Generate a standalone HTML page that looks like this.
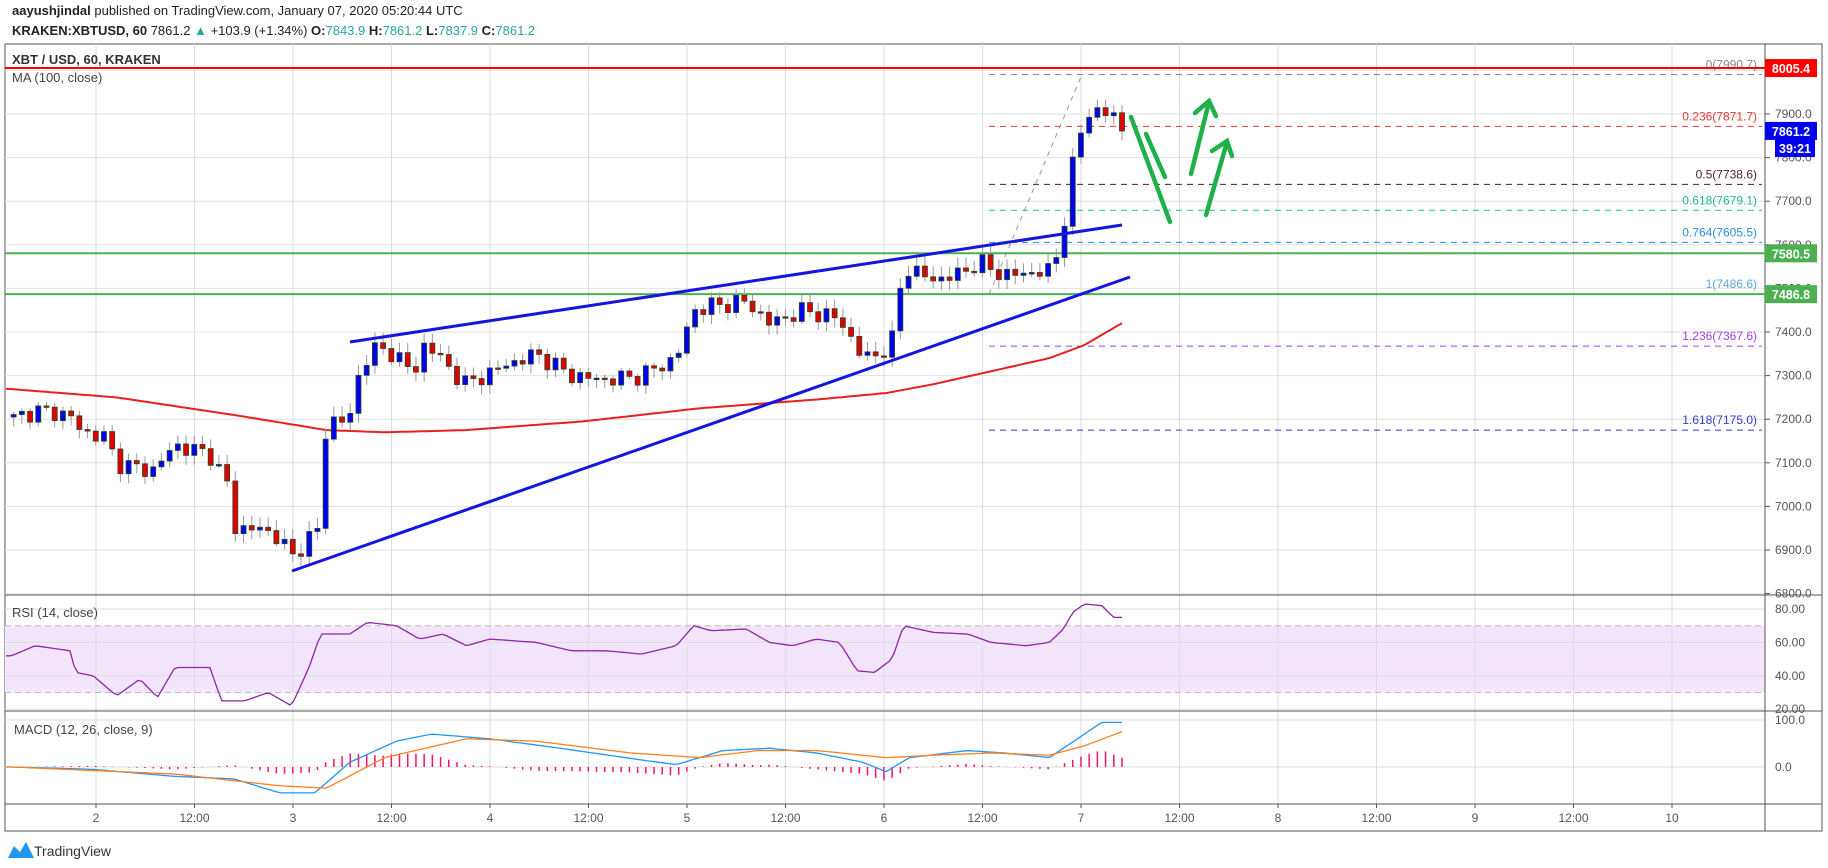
<!DOCTYPE html>
<html><head><meta charset="utf-8"><style>
body{margin:0;background:#fff;width:1828px;height:868px;overflow:hidden;font-family:"Liberation Sans",sans-serif}
svg{position:absolute;left:0;top:0}
</style></head><body>
<svg id="s" width="1828" height="868" xmlns="http://www.w3.org/2000/svg" font-family="Liberation Sans, sans-serif"></svg>
<script>
const S=document.getElementById('s');let h='';
const PY=p=>114+(7900-p)*0.436, RY=v=>609+(80-v)*1.67, MY=v=>767-v*0.47;
function interp(pts,tx){if(tx<=pts[0][0])return pts[0][1];for(let i=1;i<pts.length;i++){if(tx<=pts[i][0]){const a=pts[i-1],b=pts[i];return a[1]+(b[1]-a[1])*(tx-a[0])/(b[0]-a[0]);}}return pts[pts.length-1][1];}
function path(pts,fy,col,w){let d='';for(let x=6;x<=1124;x+=4){const v=interp(pts,x/1.166);d+=(d?'L':'M')+x+' '+fy(v).toFixed(1);}return `<path d="${d}" fill="none" stroke="${col}" stroke-width="${w}"/>`;}
// panes
h+=`<rect x="5" y="44" width="1817" height="787" fill="#fff" stroke="#555"/>`;
h+=`<rect x="5" y="${RY(70)}" width="1760" height="${RY(30)-RY(70)}" fill="#f3e6fc"/>`;
// vertical grid
const vx=[];for(let k=-1;k<=17;k++){const x=96+k*98.5;if(x>5&&x<1765)vx.push(x);}
vx.forEach(x=>h+=`<line x1="${x}" y1="44" x2="${x}" y2="804" stroke="#ddd"/>`);
for(let p=6800;p<=8000;p+=100){const y=PY(p);h+=`<line x1="5" y1="${y}" x2="1765" y2="${y}" stroke="#e0e0e0"/>`;if(p<8000)h+=`<text x="1775" y="${y+4}" font-size="12" fill="#555">${p}.0</text><line x1="1765" y1="${y}" x2="1770" y2="${y}" stroke="#555"/>`;}
[80,60,40,20].forEach(v=>{h+=`<line x1="5" y1="${RY(v)}" x2="1765" y2="${RY(v)}" stroke="#ddd"/><text x="1775" y="${RY(v)+4}" font-size="12" fill="#555">${v}.00</text>`});
[70,30].forEach(v=>h+=`<line x1="5" y1="${RY(v)}" x2="1765" y2="${RY(v)}" stroke="#bbb" stroke-dasharray="6,4"/>`);
[[100,'100.0'],[0,'0.0']].forEach(a=>h+=`<line x1="5" y1="${MY(a[0])}" x2="1765" y2="${MY(a[0])}" stroke="#ddd"/><text x="1775" y="${MY(a[0])+4}" font-size="12" fill="#555">${a[1]}</text>`);
h+=`<line x1="5" y1="595" x2="1822" y2="595" stroke="#555"/><line x1="5" y1="711" x2="1822" y2="711" stroke="#555"/><line x1="5" y1="804" x2="1822" y2="804" stroke="#555"/><line x1="1765" y1="44" x2="1765" y2="831" stroke="#555"/>`;
// time labels
const tl=['2','12:00','3','12:00','4','12:00','5','12:00','6','12:00','7','12:00','8','12:00','9','12:00','10'];
tl.forEach((t,i)=>{const x=96+i*98.5;h+=`<text x="${x}" y="822" font-size="12" fill="#555" text-anchor="middle">${t}</text><line x1="${x}" y1="804" x2="${x}" y2="808" stroke="#555"/>`});
// fib lines
const fib=[[7990.7,'0(7990.7)','#888'],[7871.7,'0.236(7871.7)','#e53935'],[7738.6,'0.5(7738.6)','#4a1e2e'],[7679.1,'0.618(7679.1)','#26b890'],[7605.5,'0.764(7605.5)','#2b8fd6'],[7486.6,'1(7486.6)','#5aa9d6'],[7367.6,'1.236(7367.6)','#a040e0'],[7175.0,'1.618(7175.0)','#3040d0']];
fib.forEach(f=>{const y=PY(f[0]);h+=`<line x1="989" y1="${y}" x2="1762" y2="${y}" stroke="${f[2]}" stroke-dasharray="6,5"/><text x="1757" y="${y-6}" font-size="12" fill="${f[2]}" text-anchor="end">${f[1]}</text>`});
h+=`<line x1="989" y1="${PY(7486.6)}" x2="1082" y2="${PY(7990.7)}" stroke="#999" stroke-dasharray="5,5"/>`;
// horizontal S/R
h+=`<line x1="5" y1="${PY(8005.4)}" x2="1765" y2="${PY(8005.4)}" stroke="#f00" stroke-width="2"/>`;
h+=`<line x1="5" y1="${PY(7580.5)}" x2="1765" y2="${PY(7580.5)}" stroke="#4caf50" stroke-width="2"/>`;
h+=`<line x1="5" y1="${PY(7486.8)}" x2="1765" y2="${PY(7486.8)}" stroke="#4caf50" stroke-width="2"/>`;
// MA
h+=path([[5,7270],[100,7250],[200,7210],[280,7175],[330,7170],[400,7175],[500,7195],[600,7225],[700,7245],[760,7260],[800,7280],[850,7310],[900,7340],[930,7370],[962,7420]],PY,'#e82020',2);
// candles
const pp=[[10,7200],[30,7220],[60,7210],[70,7170],[90,7160],[100,7100],[130,7080],[150,7140],[180,7120],[195,7050],[200,6950],[220,6950],[240,6930],[250,6880],[265,6930],[275,6950],[280,7200],[300,7200],[310,7330],[320,7360],[340,7350],[355,7300],[365,7380],[380,7330],[400,7280],[430,7320],[460,7350],[490,7300],[520,7290],[550,7300],[580,7340],[595,7450],[610,7460],[640,7470],[660,7420],[690,7450],[720,7430],[740,7340],[755,7350],[765,7380],[775,7550],[800,7520],[820,7530],[840,7560],[860,7530],[900,7540],[910,7600],[915,7700],[920,7780],[928,7870],[935,7910],[945,7900],[955,7900],[962,7860]];
let prev=7205;
for(let i=0;i<=135;i++){const x=1122-(135-i)*8.21;let c=interp(pp,x/1.166)+Math.sin(i*2.3)*14+Math.cos(i*1.7)*9;if(i==135)c=7861;
const o=prev,hi=Math.max(o,c)+6+Math.abs(Math.sin(i*3.1))*18,lo=Math.min(o,c)-6-Math.abs(Math.cos(i*2.7))*16;prev=c;
const up=c>=o,col=up?'#0000ee':'#e00000';const yt=PY(Math.max(o,c)),yb=Math.max(PY(Math.min(o,c)),yt+1.5);
h+=`<line x1="${x}" y1="${PY(hi)}" x2="${x}" y2="${PY(lo)}" stroke="#999"/><rect x="${x-2.5}" y="${yt}" width="5" height="${yb-yt}" fill="${col}" stroke="#2a4a2a" stroke-width="0.8"/>`;}
// trendlines
h+=`<line x1="350" y1="342" x2="1122" y2="225" stroke="#1515e0" stroke-width="3"/><line x1="292" y1="571" x2="1130" y2="277" stroke="#1515e0" stroke-width="3"/>`;
// arrows
const g='stroke="#1fb04a" stroke-width="4.5" stroke-linecap="round" fill="none"';
h+=`<line x1="1131" y1="117" x2="1170" y2="222" ${g}/><line x1="1146" y1="134" x2="1165" y2="177" ${g}/>`;
h+=`<path d="M1191 174 L1209 102 M1195 113 L1209 101 L1216 116" ${g}/><path d="M1206 215 L1227 142 M1212 151 L1227 141 L1232 156" ${g}/>`;
// RSI
h+=path([[10,52],[30,58],[60,55],[65,42],[80,40],[100,28],[120,38],[135,27],[150,45],[180,45],[190,25],[210,25],[230,30],[250,22],[265,45],[275,65],[300,65],[315,72],[340,70],[360,62],[380,65],[400,58],[420,62],[460,60],[490,55],[520,55],[550,53],[580,58],[595,70],[610,67],[640,68],[660,60],[680,58],[700,62],[720,60],[735,43],[750,42],[765,50],[775,70],[800,66],[830,65],[850,60],[880,58],[900,60],[912,68],[920,78],[930,83],[945,82],[955,75],[962,75]],RY,'#8e24aa',1.3);
// MACD
const mp=[[10,0],[80,-5],[150,-20],[200,-25],[240,-55],[270,-55],[300,10],[340,55],[370,70],[420,60],[480,40],[550,15],[580,5],[620,35],[660,40],[700,30],[740,10],[760,-10],[780,20],[830,35],[860,30],[900,20],[930,70],[945,95],[962,95]];
const sp=[[10,0],[150,-15],[240,-40],[280,-45],[330,20],[400,60],[460,55],[540,30],[600,20],[650,35],[700,35],[760,20],[800,25],[850,30],[900,25],[930,45],[962,75]];
for(let i=0;i<=135;i++){const x=1122-(135-i)*8.21;const d=interp(mp,x/1.166)-interp(sp,x/1.166);h+=`<line x1="${x}" y1="${MY(0)}" x2="${x}" y2="${MY(d)}" stroke="#ff1070" stroke-width="1.5"/>`;}
h+=path(mp,MY,'#2196f3',1.3)+path(sp,MY,'#ff7f1e',1.3);
// right labels
function box(y,t,c,x=1765,w=52){h+=`<rect x="${x}" y="${y-9}" width="${w}" height="18" fill="${c}"/><text x="${x+w/2}" y="${y+5}" font-size="12.5" font-weight="bold" fill="#fff" text-anchor="middle">${t}</text>`;}
box(PY(8005.4),'8005.4','#f00');box(PY(7861.2),'7861.2','#0000ee');box(148,'39:21','#0000ee',1775,40);box(PY(7580.5),'7580.5','#4caf50');box(PY(7486.8),'7486.8','#4caf50');
// titles
h+=`<text x="12" y="15" font-size="13" fill="#222"><tspan font-weight="bold">aayushjindal</tspan> published on TradingView.com, January 07, 2020 05:20:44 UTC</text>`;
h+=`<text x="12" y="35" font-size="13" fill="#222"><tspan font-weight="bold">KRAKEN:XBTUSD, 60</tspan> 7861.2 <tspan fill="#26a69a">▲</tspan> +103.9 (+1.34%) <tspan font-weight="bold">O:</tspan><tspan fill="#26a69a">7843.9</tspan> <tspan font-weight="bold">H:</tspan><tspan fill="#26a69a">7861.2</tspan> <tspan font-weight="bold">L:</tspan><tspan fill="#26a69a">7837.9</tspan> <tspan font-weight="bold">C:</tspan><tspan fill="#26a69a">7861.2</tspan></text>`;
h+=`<text x="12" y="64" font-size="13" fill="#333" font-weight="bold">XBT / USD, 60, KRAKEN</text><text x="12" y="82" font-size="13" fill="#444">MA (100, close)</text>`;
h+=`<text x="12" y="617" font-size="13" fill="#444">RSI (14, close)</text><text x="14" y="734" font-size="13" fill="#444">MACD (12, 26, close, 9)</text>`;
h+=`<path d="M8 858 L14 846 L20 852 L26 842 L34 858 Z" fill="#2196f3"/><text x="34" y="856" font-size="14" fill="#333">TradingView</text>`;
S.innerHTML=h;
</script>
</body></html>
